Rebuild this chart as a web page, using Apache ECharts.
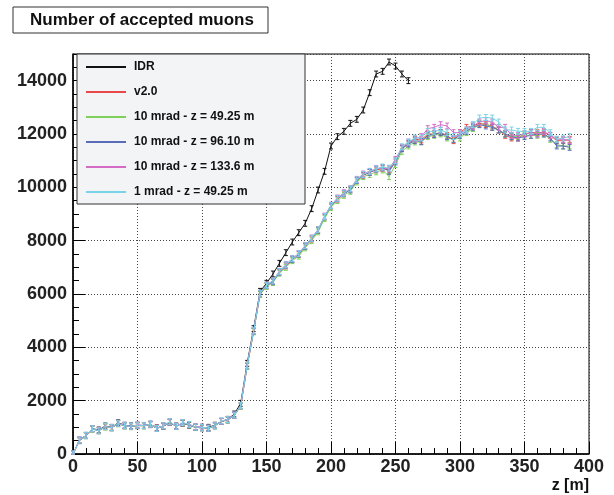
<!DOCTYPE html>
<html>
<head>
<meta charset="utf-8">
<script src="https://cdn.jsdelivr.net/npm/echarts@6/dist/echarts.min.js"></script>
<style>
html, body { margin: 0; padding: 0; background: #fff; }
#chart { width: 614px; height: 495px; }
</style>
</head>
<body>
<div id="chart"></div>
<script>
// z positions [m]
const zPos = [0,5,10,15,20,25,30,35,40,45,50,55,60,65,70,75,80,85,90,95,100,105,110,115,120,125,130,135,140,145,150,155,160,165,170,175,180,185,190,195,200,205,210,215,220,225,230,235,240,245,250,255,260,265,270,275,280,285,290,295,300,305,310,315,320,325,330,335,340,345,350,355,360,365,370,375,380,385];
const zIdr = [0,5,10,15,20,25,30,35,40,45,50,55,60,65,70,75,80,85,90,95,100,105,110,115,120,125,130,135,140,145,150,155,160,165,170,175,180,185,190,195,200,205,210,215,220,225,230,235,240,245,250,255,260];

const idr = [0,500,700,950,900,1050,1000,1170,1080,1050,1060,1070,1100,980,1040,1180,1050,1150,1080,1000,980,1000,1080,1220,1300,1500,1900,3400,4700,6100,6400,6750,7150,7550,7950,8300,8650,9200,9900,10600,11550,11900,12100,12400,12550,12900,13550,14250,14350,14700,14550,14250,14000];
const v20 = [0,520,690,940,880,1020,990,1140,1060,1030,1080,1060,1110,970,1050,1190,1040,1160,1100,1010,1000,970,1060,1220,1280,1450,1800,3300,4600,6000,6300,6480,6830,7050,7300,7480,7780,8060,8380,8880,9300,9560,9750,9920,10250,10450,10560,10650,
  10700,10650,11000,11450,11650,11800,11780,12000,12000,12050,11950,11750,12050,12250,12300,12400,12350,12300,12150,11950,11850,11850,12000,12050,12050,12050,11950,11750,11750,11800];
const mrad10z49 = [0,510,680,930,870,1010,980,1130,1050,1020,1070,1050,1110,960,1040,1190,1030,1160,1090,1000,990,960,1050,1220,1270,1440,1790,3280,4580,5980,6280,6430,6780,7000,7250,7420,7730,8000,8330,8830,9250,9500,9700,9850,10200,10400,10480,10580,
  10650,10400,10850,11350,11550,11700,11700,11900,11950,12000,11850,11800,11850,12050,12200,12350,12400,12250,12150,12000,11900,11900,11950,11950,11950,12000,11800,11600,11550,11550];
const mrad10z96 = [0,520,690,950,870,1030,980,1150,1060,1040,1080,1070,1120,960,1050,1200,1030,1170,1100,1010,1000,960,1060,1230,1280,1450,1810,3310,4610,6010,6320,6460,6820,7080,7290,7500,7790,8080,8400,8900,9310,9570,9770,9900,10260,10470,10560,10680,
  10750,10600,10950,11450,11620,11750,11720,11950,11980,12050,11900,11800,11950,12100,12250,12350,12300,12250,12150,12000,11900,11850,11900,11950,12000,12000,11850,11550,11550,11500];
const mrad10z133 = [0,530,690,950,880,1030,990,1150,1070,1040,1090,1070,1120,970,1060,1200,1040,1170,1110,1020,1010,970,1070,1230,1290,1460,1810,3320,4620,6020,6340,6500,6850,7100,7330,7520,7820,8100,8420,8920,9330,9600,9800,9950,10300,10500,10600,10700,
  10720,10700,11050,11500,11700,11820,11900,12200,12250,12350,12300,12050,12050,12150,12300,12450,12500,12450,12250,12250,11950,11950,12000,12050,12000,12100,11950,11800,11800,11750];
const mrad1z49 = [0,520,700,950,870,1030,990,1150,1060,1040,1080,1060,1120,960,1060,1210,1040,1180,1110,1010,1000,970,1060,1240,1290,1460,1820,3330,4620,6030,6330,6490,6840,7090,7320,7510,7810,8090,8410,8910,9320,9590,9780,9940,10280,10480,10590,10690,
  10760,10720,11000,11520,11700,11850,11850,12100,12100,12150,12050,11900,12000,12150,12350,12600,12620,12600,12450,12150,12150,12100,12100,12100,12250,12250,12050,11800,11850,11900];

const names = ['IDR', 'v2.0', '10 mrad - z = 49.25 m', '10 mrad - z = 96.10 m', '10 mrad - z = 133.6 m', '1 mrad - z = 49.25 m'];
const colors = ['#111111', '#e8484a', '#7fd05a', '#5a6cb8', '#d46cc6', '#78d4e6'];
const errHalf = 110;

const FONT = 'Liberation Sans, Arial, Helvetica, sans-serif';

function pairs(xs, ys) {
  return xs.map((x, i) => [x, ys[i]]);
}

function lineSeries(name, xs, ys, color, z) {
  return {
    name: name,
    type: 'line',
    data: pairs(xs, ys),
    showSymbol: false,
    symbol: 'none',
    lineStyle: { color: color, width: 1 },
    itemStyle: { color: color },
    z: z,
    animation: false
  };
}

function errSeries(name, xs, ys, color, z) {
  return {
    name: name + ' err',
    type: 'custom',
    silent: true,
    z: z,
    animation: false,
    data: xs.map((x, i) => [x, Math.max(0, ys[i] - errHalf), ys[i] + errHalf]),
    renderItem: function (params, api) {
      const lo = api.coord([api.value(0), api.value(1)]);
      const hi = api.coord([api.value(0), api.value(2)]);
      const st = { stroke: color, lineWidth: 1 };
      return {
        type: 'group',
        children: [
          { type: 'line', shape: { x1: lo[0], y1: lo[1], x2: hi[0], y2: hi[1] }, style: st },
          { type: 'line', shape: { x1: lo[0] - 2, y1: lo[1], x2: lo[0] + 2, y2: lo[1] }, style: st },
          { type: 'line', shape: { x1: hi[0] - 2, y1: hi[1], x2: hi[0] + 2, y2: hi[1] }, style: st }
        ]
      };
    }
  };
}

const allX = [zIdr, zPos, zPos, zPos, zPos, zPos];
const allY = [idr, v20, mrad10z49, mrad10z96, mrad10z133, mrad1z49];
const series = [];
names.forEach((n, i) => {
  series.push(lineSeries(n, allX[i], allY[i], colors[i], 2 + i));
  series.push(errSeries(n, allX[i], allY[i], colors[i], 2 + i));
});

const chart = echarts.init(document.getElementById('chart'), null, { renderer: 'canvas' });
chart.setOption({
  animation: false,
  grid: {
    left: 73, right: 25, top: 54, bottom: 41,
    show: true, borderColor: '#000', borderWidth: 1, backgroundColor: 'transparent'
  },
  xAxis: {
    type: 'value', min: 0, max: 400, interval: 50,
    axisLine: { show: true, onZero: false, lineStyle: { color: '#000', width: 1.5 } },
    axisTick: { show: true, inside: true, length: 12, lineStyle: { color: '#000' } },
    minorTick: { show: true, splitNumber: 5, length: 6, lineStyle: { color: '#000' } },
    axisLabel: { margin: 4, color: '#222', fontFamily: FONT, fontWeight: 'bold', fontSize: 18 },
    splitLine: { show: true, lineStyle: { color: '#444', type: [1, 2], width: 1 } }
  },
  yAxis: {
    type: 'value', min: 0, max: 15000, interval: 2000,
    axisLine: { show: true, onZero: false, lineStyle: { color: '#000', width: 1.5 } },
    axisTick: { show: true, inside: true, length: 12, lineStyle: { color: '#000' } },
    minorTick: { show: true, splitNumber: 4, length: 6, lineStyle: { color: '#000' } },
    axisLabel: {
      margin: 6, color: '#222', fontFamily: FONT, fontWeight: 'bold', fontSize: 18,
      formatter: v => (v > 14000 ? '' : String(v))
    },
    splitLine: { show: true, lineStyle: { color: '#444', type: [1, 2], width: 1 } }
  },
  legend: {
    data: names.map((n, i) => ({ name: n, icon: 'rect', itemStyle: { color: colors[i] } })),
    orient: 'vertical',
    left: 86, top: 60,
    padding: 0,
    itemWidth: 40, itemHeight: 2, itemGap: 11,
    selectedMode: false,
    textStyle: { fontFamily: FONT, fontWeight: 'bold', fontSize: 12, color: '#111', lineHeight: 14, padding: [0, 0, 0, 3] },
    z: 10
  },
  graphic: [
    { type: 'rect', z: 8, shape: { x: 77, y: 54, width: 228, height: 150 },
      style: { fill: '#f3f4f6', stroke: '#333', lineWidth: 1 } },
    { type: 'rect', z: 8, shape: { x: 13, y: 7, width: 255, height: 26 },
      style: { fill: '#fff', stroke: '#333', lineWidth: 1 } },
    { type: 'text', z: 9, x: 142, y: 20,
      style: { text: 'Number of accepted muons', font: 'bold 17px ' + FONT, fill: '#111',
        textAlign: 'center', textVerticalAlign: 'middle' } },
    { type: 'text', z: 9, x: 589, y: 486,
      style: { text: 'z [m]', font: 'bold 16px ' + FONT, fill: '#111',
        textAlign: 'right', textVerticalAlign: 'middle' } }
  ],
  series: series
});
window.onresize = () => {
  chart.resize();
};
</script>
</body>
</html>
